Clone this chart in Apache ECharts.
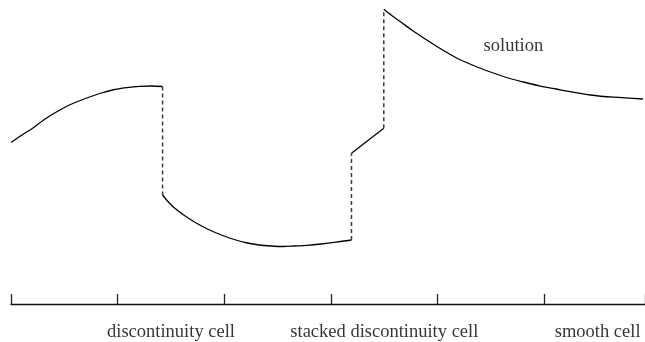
<!DOCTYPE html>
<html>
<head>
<meta charset="utf-8">
<script src="https://cdn.jsdelivr.net/npm/echarts@6/dist/echarts.min.js"></script>
<style>
html,body{margin:0;padding:0;background:#fff;}
#c{width:645px;height:342px;}
</style>
</head>
<body>
<div id="c"></div>
<script>
// x in cell units (1 = one cell), y in solution units
const curveA = [[0,1.615],[0.103,1.69],[0.206,1.76],[0.327,1.855],[0.458,1.94],[0.579,2.005],[0.710,2.06],[0.832,2.105],[0.953,2.14],[1.084,2.163],[1.206,2.177],[1.318,2.18],[1.421,2.175]];
const curveB = [[1.421,1.09],[1.467,1.03],[1.533,0.96],[1.626,0.885],[1.720,0.82],[1.841,0.75],[1.972,0.69],[2.093,0.645],[2.215,0.61],[2.327,0.59],[2.439,0.58],[2.551,0.575],[2.654,0.58],[2.776,0.587],[2.907,0.60],[3.047,0.618],[3.192,0.64]];
const curveC = [[3.192,1.507],[3.495,1.757]];
const curveD = [[3.495,2.947],[3.570,2.885],[3.651,2.823],[3.757,2.74],[3.869,2.66],[4.009,2.565],[4.178,2.46],[4.336,2.385],[4.495,2.32],[4.645,2.265],[4.804,2.22],[4.953,2.182],[5.112,2.15],[5.271,2.118],[5.430,2.09],[5.645,2.068],[5.925,2.05]];
const jump1 = [[1.421,2.175],[1.421,1.09]];
const jump2 = [[3.192,0.64],[3.192,1.507]];
const jump3 = [[3.495,1.757],[3.495,2.947]];
const cellLabels = ['discontinuity cell','stacked discontinuity cell','smooth cell'];
const cellLabelPos = [1.5,3.5,5.5];
const solutionLabel = 'solution';
const solutionLabelPos = [4.71,2.58];

const chart = echarts.init(document.getElementById('c'), null, {renderer:'canvas'});
const solidStyle = {color:'#000', width:1.3};
const dashStyle = {color:'#3a3a3a', width:1.5, type:[4,3]};
function line(data, style, smooth){
  return {type:'line', data:data, showSymbol:false, symbol:'none', smooth:smooth, lineStyle:style, silent:true, animation:false};
}
const fontFam = '"Liberation Serif","DejaVu Serif",serif';
chart.setOption({
  animation:false,
  backgroundColor:'#fff',
  grid:{left:11, right:-2, top:4, bottom:38, containLabel:false},
  xAxis:{
    type:'value', min:0, max:636/107, interval:1, position:'bottom',
    axisLine:{show:true, lineStyle:{color:'#111', width:1.3}},
    axisTick:{show:true, inside:true, length:10, lineStyle:{color:'#222', width:1.3}},
    axisLabel:{show:false}, splitLine:{show:false}
  },
  yAxis:{type:'value', min:0, max:3, show:false, splitLine:{show:false}},
  series:[
    line(curveA, solidStyle, 0.3),
    line(curveB, solidStyle, 0.3),
    line(curveC, solidStyle, false),
    line(curveD, solidStyle, 0.3),
    line(jump1, dashStyle, false),
    line(jump2, dashStyle, false),
    line(jump3, dashStyle, false),
    {
      type:'scatter', symbolSize:0, silent:true, clip:false,
      data: cellLabels.map((t,i)=>({value:[cellLabelPos[i],0], name:t})),
      label:{show:true, position:'inside', offset:[0,28], formatter:p=>p.name,
        fontFamily:fontFam, fontSize:18.5, color:'#000'}
    },
    {
      type:'scatter', symbolSize:0, silent:true,
      data:[{value:solutionLabelPos, name:solutionLabel}],
      label:{show:true, position:'inside', formatter:p=>p.name,
        fontFamily:fontFam, fontSize:18.5, color:'#000'}
    }
  ]
});
</script>
</body>
</html>
